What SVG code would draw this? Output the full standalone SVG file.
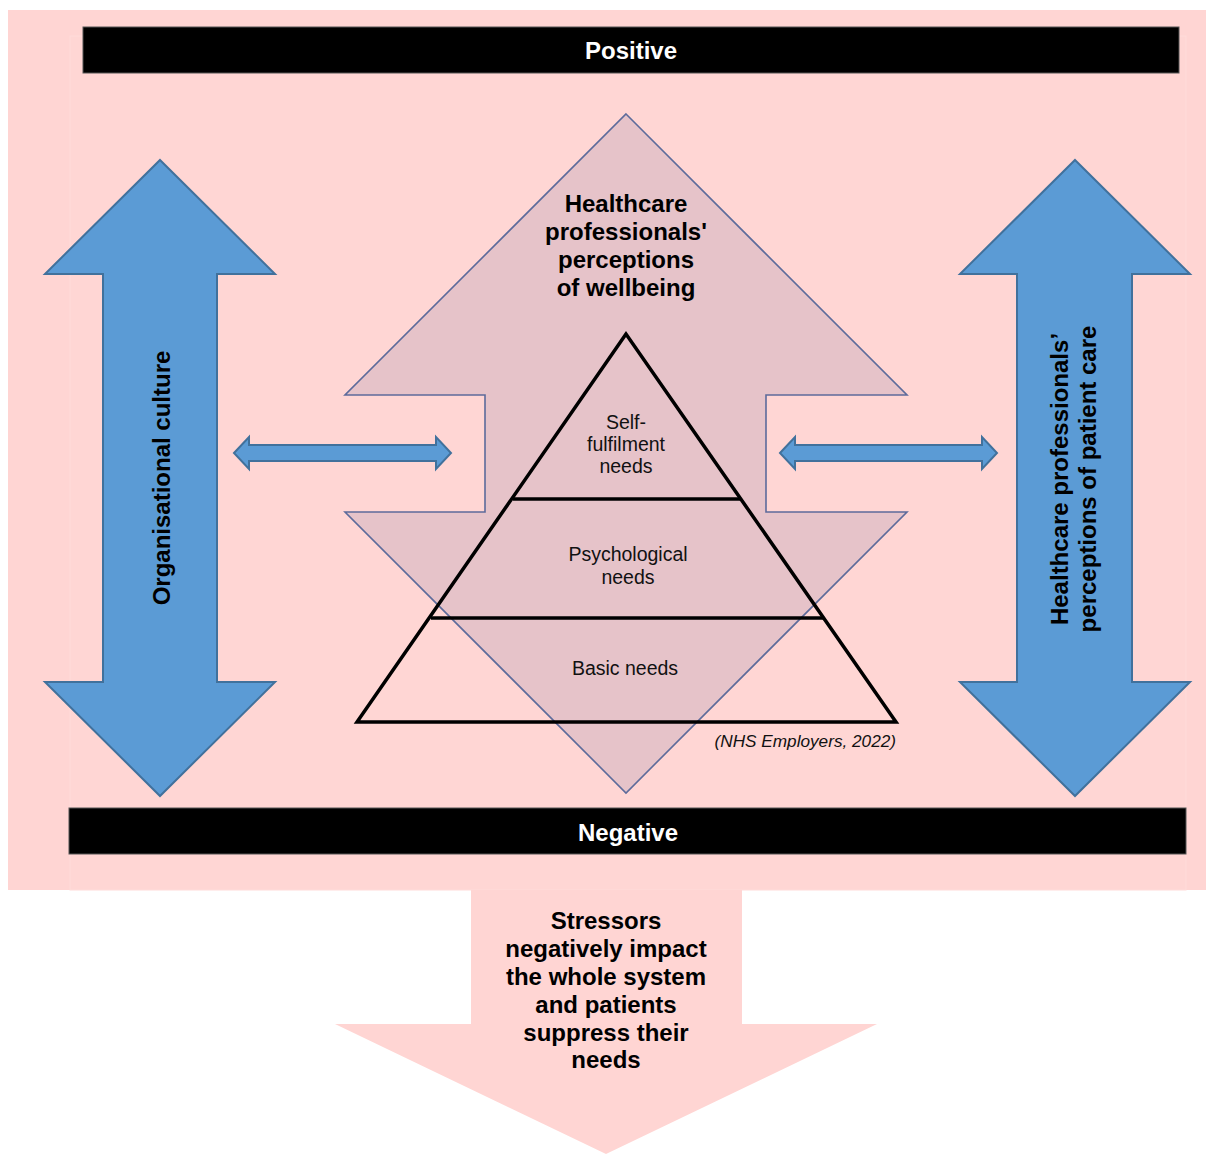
<svg xmlns="http://www.w3.org/2000/svg" width="1206" height="1154" viewBox="0 0 1206 1154">
<style>
.bold{font-family:"Liberation Sans",Arial,sans-serif;font-weight:bold;font-size:24px;fill:#000;text-anchor:middle}
.white{fill:#fff}
.reg{font-family:"Liberation Sans",Arial,sans-serif;font-size:19.5px;fill:#111;text-anchor:middle}
.ital{font-family:"Liberation Sans",Arial,sans-serif;font-style:italic;font-size:17.2px;fill:#111;text-anchor:end}
.blue{fill:#5B9BD5;stroke:#41719C;stroke-width:2;stroke-linejoin:miter}
.bar{fill:#000;stroke:#555;stroke-width:1}
.pyr{fill:none;stroke:#000;stroke-width:3.5;stroke-linejoin:miter}
</style>
<rect x="0" y="0" width="1206" height="1154" fill="#fff"/>
<g id="background">
<rect x="8" y="10" width="1198" height="880" fill="#FFD5D3"/>
<rect x="70" y="36" width="1116" height="854" fill="#FFD6D4" stroke="#FFDCDA" stroke-width="1"/>
</g>
<g id="positive">
<rect class="bar" x="83" y="27" width="1096" height="46"/>
<text class="bold white" x="631" y="58.5">Positive</text>
</g>
<g id="negative">
<rect class="bar" x="69" y="808" width="1117" height="46"/>
<text class="bold white" x="628" y="840.5">Negative</text>
</g>
<g id="organisational-culture">
<polygon class="blue" points="160,160 275,274 217,274 217,682 275,682 160,796 45,682 103,682 103,274 45,274"/>
<text class="bold" transform="translate(169.5,478) rotate(-90)" x="0" y="0">Organisational culture</text>
</g>
<g id="patient-care">
<polygon class="blue" points="1075,160 1190,274 1132,274 1132,682 1190,682 1075,796 960,682 1017,682 1017,274 960,274"/>
<text class="bold" transform="translate(1068,479) rotate(-90)" x="0" y="0">Healthcare professionals’</text>
<text class="bold" transform="translate(1096,479) rotate(-90)" x="0" y="0">perceptions of patient care</text>
</g>
<g id="wellbeing">
<polygon points="626,114 907,395 766,395 766,512 907,512 626,793 345,512 485,512 485,395 345,395" fill="#E6C3C9" stroke="#5D6B9B" stroke-width="1.6"/>
<text class="bold" x="626" y="212">Healthcare</text>
<text class="bold" x="626" y="240">professionals'</text>
<text class="bold" x="626" y="268">perceptions</text>
<text class="bold" x="626" y="296">of wellbeing</text>
</g>
<g id="pyramid">
<polygon class="pyr" points="626,334 357,722 896,722"/>
<line class="pyr" x1="513" y1="499" x2="740" y2="499"/>
<line class="pyr" x1="431" y1="618" x2="823" y2="618"/>
<text class="reg" x="626" y="429">Self-</text>
<text class="reg" x="626" y="451">fulfilment</text>
<text class="reg" x="626" y="473">needs</text>
<text class="reg" x="628" y="561">Psychological</text>
<text class="reg" x="628" y="584">needs</text>
<text class="reg" x="625" y="675">Basic needs</text>
<text class="ital" x="896" y="747">(NHS Employers, 2022)</text>
</g>
<g id="stressors">
<polygon points="471,890 742,890 742,1024 877,1024 606,1154 335,1024 471,1024" fill="#FFD5D3"/>
<text class="bold" x="606" y="929.3">Stressors</text>
<text class="bold" x="606" y="957.1">negatively impact</text>
<text class="bold" x="606" y="984.9">the whole system</text>
<text class="bold" x="606" y="1012.7">and patients</text>
<text class="bold" x="606" y="1040.5">suppress their</text>
<text class="bold" x="606" y="1068.3">needs</text>
</g>
<g id="connectors">
<polygon class="blue" points="234,453 249,437 249,445 436,445 436,437 451,453 436,469 436,461 249,461 249,469"/>
<polygon class="blue" points="780,453 795,437 795,445 982,445 982,437 997,453 982,469 982,461 795,461 795,469"/>
</g>
</svg>
